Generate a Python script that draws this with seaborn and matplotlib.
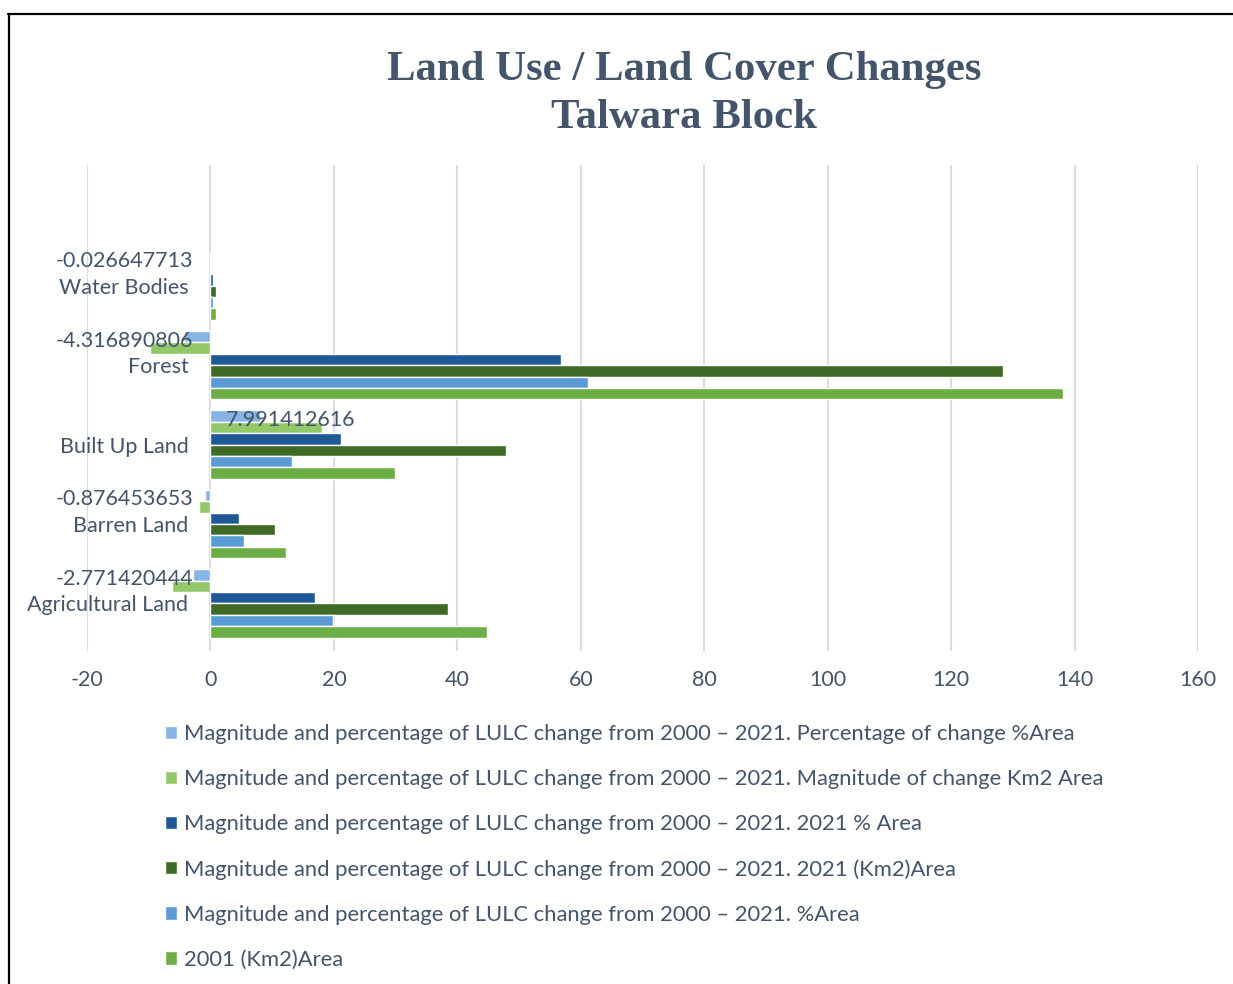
import pandas as pd
import seaborn as sns
from matplotlib import pyplot as plt

categories = ["Water Bodies", "Forest", "Built Up Land", "Barren Land", "Agricultural Land"]

prefix = "Magnitude and percentage of LULC change from 2000 \u2013 2021. "
series = [
    prefix + "Percentage of change %Area",
    prefix + "Magnitude of change Km2 Area",
    prefix + "2021 % Area",
    prefix + "2021 (Km2)Area",
    prefix + "%Area",
    "2001 (Km2)Area",
]

pct_change = [-0.026647713, -4.316890806, 7.991412616, -0.876453653, -2.771420444]
km2_change = [-0.05, -9.8, 18.0, -1.9, -6.3]
pct_2021 = [0.4, 56.8, 21.2, 4.6, 17.0]
km2_2021 = [0.9, 128.4, 47.9, 10.4, 38.5]
pct_2001 = [0.43, 61.1, 13.2, 5.5, 19.8]
km2_2001 = [0.9, 138.2, 29.9, 12.3, 44.8]

colors = ["#86b4e4", "#93c869", "#1f5896", "#3f6a26", "#5b9bd5", "#6cad45"]
text_color = "#44546a"

values = [pct_change, km2_change, pct_2021, km2_2021, pct_2001, km2_2001]
rows = []
for s, vals in zip(series, values):
    for c, v in zip(categories, vals):
        rows.append({"Category": c, "Series": s, "Value": v})
data = pd.DataFrame(rows)

sns.set_style("white")
plt.rcParams["font.family"] = ["Lato", "DejaVu Sans"]
plt.rcParams["axes.unicode_minus"] = False
fs = 15.5

fig = plt.figure(figsize=(12.33, 9.84), dpi=100)
ax = fig.add_axes([87 / 1233, 1 - 651 / 984, (1198 - 87) / 1233, (651 - 165) / 984])

sns.barplot(data, y="Category", x="Value", hue="Series", order=categories, hue_order=series,
            palette=colors, orient="h", width=0.86, gap=0, saturation=1, ax=ax)

ax.set_xlim(-20, 160)
ax.set_ylim(4.6, -1.52)
ax.set_xticks(range(-20, 161, 20))
ax.set_xlabel(None)
ax.set_ylabel(None)
ax.grid(axis="x", color="#d9dde3", linewidth=1.5)
ax.set_axisbelow(True)
sns.despine(ax=ax, left=True, bottom=True)
ax.tick_params(axis="both", length=0, labelsize=fs, labelcolor=text_color)
ax.tick_params(axis="x", pad=14)
# category labels sit inside the plot area, left of zero
ax.tick_params(axis="y", pad=-73)

# data labels for the percentage change series
for bar, v in zip(ax.containers[0], pct_change):
    yc = bar.get_y() + bar.get_height() / 2 + 0.05
    if v < 0:
        ax.text(-2.8, yc, f"{v:.9f}", ha="right", va="center", fontsize=fs, color=text_color)
    else:
        ax.text(2.5, yc, f"{v:.9f}", ha="left", va="center", fontsize=fs, color=text_color)

handles, labels = ax.get_legend_handles_labels()
ax.get_legend().remove()
fig.legend(handles, labels, loc="upper left", bbox_to_anchor=(165 / 1233, 1 - 724 / 984),
           frameon=False, fontsize=15.8, labelcolor=text_color, handlelength=0.55,
           handleheight=0.55, handletextpad=0.3, labelspacing=1.14, borderpad=0,
           borderaxespad=0)

fig.text(684 / 1233, 1 - 94 / 984, "Land Use / Land Cover Changes\nTalwara Block", ha="center",
         va="center", fontsize=30.8, fontweight="bold", color=text_color,
         family="Liberation Serif", linespacing=1.35)

fig.add_artist(plt.Line2D([8 / 1233, 1], [1 - 14 / 984, 1 - 14 / 984], color="black",
                          linewidth=1.6, transform=fig.transFigure))
fig.add_artist(plt.Line2D([9 / 1233, 9 / 1233], [0, 1 - 14 / 984], color="black",
                          linewidth=1.6, transform=fig.transFigure))

fig.savefig("out.png", dpi=100)
